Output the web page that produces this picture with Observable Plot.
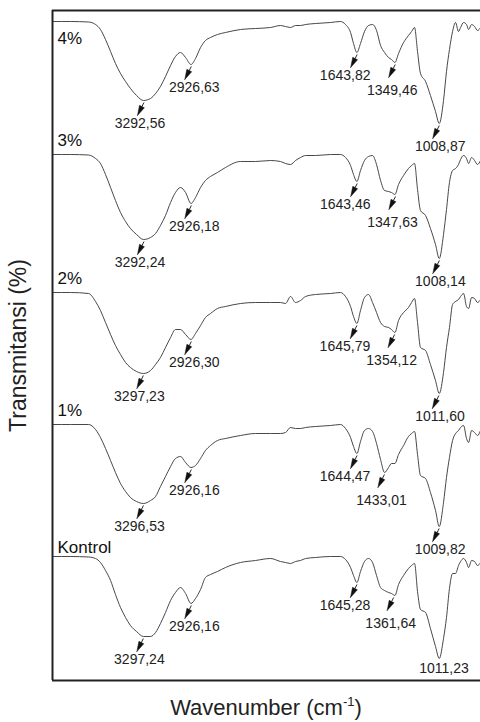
<!DOCTYPE html>
<html><head><meta charset="utf-8">
<script src="https://cdn.jsdelivr.net/npm/d3@7"></script>
<script src="https://cdn.jsdelivr.net/npm/@observablehq/plot@0.6"></script>
<style>
body{margin:0;background:#fff;}
#wrap{position:relative;width:480px;height:722px;font-family:"Liberation Sans",Arial,sans-serif;overflow:hidden;}
#xlabel{position:absolute;left:52px;width:428px;top:697px;text-align:center;font-size:22px;line-height:22px;color:#222;}
#xlabel sup{font-size:13px;vertical-align:9px;line-height:0;}
</style></head><body>
<div id="wrap"><div id="xlabel">Wavenumber (cm<sup>-1</sup>)</div></div>
<script>
// Wavenumber grid (cm-1)
const wavenumbers = [4000,3861,3722,3667,3629,3590,3551,3513,3474,3435,
  3397,3350,3296,3242,3203,3165,3126,3087,3049,3010,
  2971,2929,2894,2855,2817,2778,2724,2662,2546,2430,
  2314,2237,2198,2159,2121,2082,2043,1966,1850,1773,
  1734,1695,1672,1646,1618,1587,1556,1525,1494,1463,
  1432,1401,1378,1352,1324,1285,1247,1223,1200,1177,
  1154,1115,1077,1038,1009,976,953,930,906,883,
  860,844,821,798,782,759,736,713,690];

const traces = ["4%", "3%", "2%", "1%", "Kontrol"];

// Transmittance (a.u.) per trace
const t4 = [120,120,119.5,117,112,102,90,78,68,60,
  53,46,41,43,48,55,65,76,85,89,
  84,77,83,94,101,104,107,109,112,113,
  114,116,115,114,116,116,117,118,119,120,
  117,109,98,89,98,110,116,117,111,96,
  89,84,82,79,88,99,106,110,114,90,
  68,60,46,30,18,41,70,92,110,119,
  110,114,119,117,112,117,115,111,114];
const t3 = [120,120,119.5,116,111,100,87,74,62,53,
  46,40,35,37,41,49,59,72,82,87,
  82,71,77,87,94,98,102,107,113,113,
  114,113,111,110,114,117,119,119,120,120,
  117,109,100,93,104,114,118,119,110,94,
  84,83,82,80,90,99,106,109,111,85,
  64,59,46,30,16,40,65,92,104,106,
  110,115,119,116,111,117,114,110,114];
const t2 = [120,120,119,111,102,90,78,67,58,50,
  45,41,39,42,48,55,65,75,83,83,
  78,73,79,87,95,99,104,106,109,110,
  110,110,109,116,110,112,116,118,119,120,
  116,106,96,89,102,115,118,110,100,90,
  86,85,83,80,92,100,105,110,114,90,
  65,62,48,32,19,40,65,85,108,111,
  113,116,119,106,104,115,114,110,113];
const t1 = [120,120,120,115,107,96,84,72,61,53,
  47,43,41,44,48,58,68,78,86,88,
  82,77,79,86,94,99,104,106,109,111,
  111,111,112,117,116,116,117,118,119,120,
  116,107,98,91,103,114,116,113,101,85,
  72,77,81,81,90,99,108,111,113,90,
  69,66,52,34,18,42,67,87,104,111,
  114,117,119,106,102,114,112,109,114];
const tK = [120,120,119.5,118,114,106,96,82,69,59,
  51,45,40,40,44,53,64,76,84,89,
  83,73,78,87,99,102,105,109,114,116,
  118,115,114,113,115,116,118,119,120,120,
  117,109,101,94,105,115,118,114,101,89,
  86,84,83,81,92,101,108,111,113,85,
  67,64,48,30,18,38,59,88,103,103,
  111,115,118,114,109,116,115,111,114];
const values = [t4, t3, t2, t1, tK];

// vertical stacking shift of each trace
const offsets = [539, 406, 268, 136, 4];

// annotated band positions (cm-1)
const peaks4 = [3292.56, 2926.63, 1643.82, 1349.46, 1008.87];
const peaks3 = [3292.24, 2926.18, 1643.46, 1347.63, 1008.14];
const peaks2 = [3297.23, 2926.30, 1645.79, 1354.12, 1011.60];
const peaks1 = [3296.53, 2926.16, 1644.47, 1433.01, 1009.82];
const peaksK = [3297.24, 2926.16, 1645.28, 1361.64];
const plainPeaksK = [1011.23];
const peaks = [peaks4, peaks3, peaks2, peaks1, peaksK];

// ---- build tables ----
const X0 = 4000, X1 = 690, LEFT = 52, W = 480;
const K = (X0 - X1) / (W - LEFT); // cm-1 per pixel
const rows = [];
traces.forEach((t, i) => wavenumbers.forEach((w, j) => rows.push({trace: t, wn: w, y: values[i][j] + offsets[i]})));

function troughY(i, w) {
  let best = 0;
  wavenumbers.forEach((v, j) => { if (Math.abs(v - w) < Math.abs(wavenumbers[best] - w)) best = j; });
  return values[i][best] + offsets[i];
}
const fmt = v => v.toFixed(2).replace(".", ",");
// shift helpers: pixel offsets -> data offsets
const sx = (w, dxp) => w - dxp * K;
const sy = (y, dyp) => y - dyp;

// label nudges (px) for the 1st..5th annotated band of each trace
const nudgeX = [-4, 3, -12, -3, 1];
const nudgeY = [23, 23, 23, 28, 23];

const shafts = [], heads = [], labels = [];
let hid = 0;
peaks.forEach((list, i) => list.forEach((w, k) => {
  const y0 = troughY(i, w);
  const S = [0, 2], P = [-6.5, 15];
  const len = Math.hypot(P[0] - S[0], P[1] - S[1]);
  const u = [(P[0] - S[0]) / len, (P[1] - S[1]) / len];
  const n = [-u[1], u[0]];
  const hl = 10, hw = 2.7;
  const B = [P[0] - hl * u[0], P[1] - hl * u[1]];
  shafts.push({x1: sx(w, S[0]), y1: sy(y0, S[1]), x2: sx(w, B[0]), y2: sy(y0, B[1])});
  const pts = [P, [B[0] + hw * n[0], B[1] + hw * n[1]], [B[0] - hw * n[0], B[1] - hw * n[1]], P];
  pts.forEach(p => heads.push({id: hid, x: sx(w, p[0]), y: sy(y0, p[1])}));
  hid++;
  labels.push({x: sx(w, nudgeX[k]), y: sy(y0, nudgeY[k]), text: fmt(w)});
}));
plainPeaksK.forEach(w => {
  const y0 = troughY(4, w);
  labels.push({x: sx(w, 5), y: sy(y0, 10), text: fmt(w)});
});

const traceLabels = traces.map((t, i) => ({text: t, y: offsets[i] + (i === 0 ? 98 : i === 4 ? 124 : 129)}));

const chart = Plot.plot({
  width: 480,
  height: 722,
  marginLeft: LEFT,
  marginRight: 0,
  marginTop: 10,
  marginBottom: 42,
  style: {fontFamily: "'Liberation Sans', Arial, sans-serif", background: "white", color: "#222"},
  x: {domain: [X0, X1], axis: null},
  y: {domain: [0, 670], axis: null},
  marks: [
    Plot.line(rows, {x: "wn", y: "y", z: "trace", stroke: "#333", strokeWidth: 0.9, curve: "monotone-x"}),
    Plot.link(shafts, {x1: "x1", y1: "y1", x2: "x2", y2: "y2", stroke: "#111", strokeWidth: 0.9}),
    Plot.line(heads, {x: "x", y: "y", z: "id", fill: "#111", stroke: "#111", strokeWidth: 0.5, curve: "linear"}),
    Plot.text(labels, {x: "x", y: "y", text: "text", fontSize: 14, lineAnchor: "middle", textAnchor: "middle", fill: "#222"}),
    Plot.text(traceLabels, {y: "y", text: "text", frameAnchor: "left", dx: 5, textAnchor: "start", lineAnchor: "bottom", fontSize: 17, fill: "#111"}),
    Plot.text(["Transmitansi (%)"], {frameAnchor: "left", dx: -34, rotate: -90, textAnchor: "middle", lineAnchor: "middle", fontSize: 23, fill: "#222"}),
    Plot.ruleX([X0], {stroke: "#222", strokeWidth: 2}),
    Plot.ruleY([0, 670], {stroke: "#222", strokeWidth: 2})
  ]
});
document.getElementById("wrap").prepend(chart);
</script>
</body></html>
